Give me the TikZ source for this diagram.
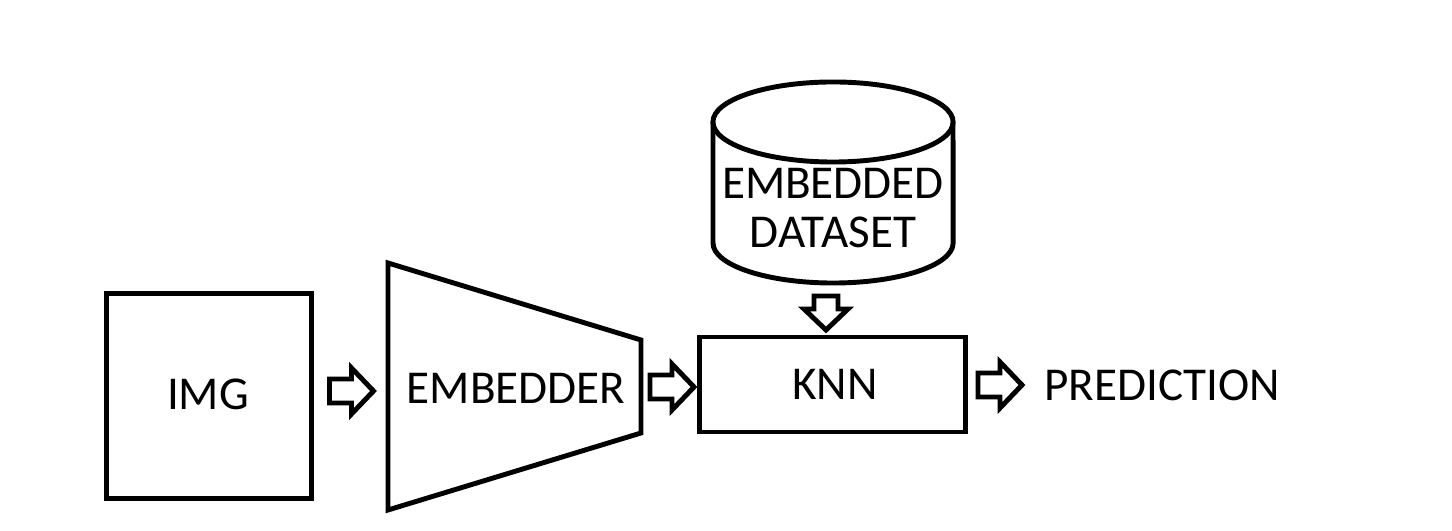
\documentclass[tikz,border=0pt]{standalone}
\usepackage{fontspec}
\setmainfont{Carlito}
\begin{document}
\begin{tikzpicture}[x=0.01cm,y=-0.01cm, line width=1.4pt,
  lbl/.style={font=\fontsize{13.4}{16}\selectfont, inner sep=0pt, align=center},
  box/.style={draw, lbl},
  rarrow/.pic={\draw[line join=miter] (-22,-12) -- (0,-12) -- (0,-23) -- (22,0) -- (0,23) -- (0,12) -- (-22,12) -- cycle;},
  darrow/.pic={\draw[line join=miter] (-12,-17) -- (-12,-4) -- (-22,-4) -- (0,17) -- (22,-4) -- (12,-4) -- (12,-17) -- cycle;}
  ]
\fill[white] (0,0) rectangle (1452,531);
\useasboundingbox (0,0) rectangle (1452,531);

% IMG box
\node[box, minimum width=2.04cm, minimum height=2.04cm] (img) at (209,396) {};
\node[lbl] (imgtxt) at (208,394) {IMG};

% Embedder trapezoid
\coordinate (e1) at (388,263);
\coordinate (e2) at (641,340);
\coordinate (e3) at (641,433);
\coordinate (e4) at (388,510);
\draw (e1) -- (e2) -- (e3) -- (e4) -- cycle;
\node[lbl] (emb) at (516,388) {EMBEDDER};

% KNN box
\node[box, minimum width=2.65cm, minimum height=0.95cm] (knn) at (832.5,384.5) {};
\node[lbl] (knntxt) at (835,384) {KNN};

% Cylinder
\draw (713,122) -- (713,243) arc[start angle=180, end angle=360, x radius=1.2cm, y radius=0.4cm] -- (953,122);
\draw (833,122) ellipse [x radius=1.2cm, y radius=0.4cm];
\node[lbl, text width=2.4cm] (db) at (833,208) {EMBEDDED\\[-0.3ex]DATASET};

% Prediction
\node[lbl] (pred) at (1162,385) {PREDICTION};

% Block arrows
\pic at (351.5,391) {rarrow};
\pic at (672,387) {rarrow};
\pic at (1000,385) {rarrow};
\pic at (826,313) {darrow};
\end{tikzpicture}
\end{document}
